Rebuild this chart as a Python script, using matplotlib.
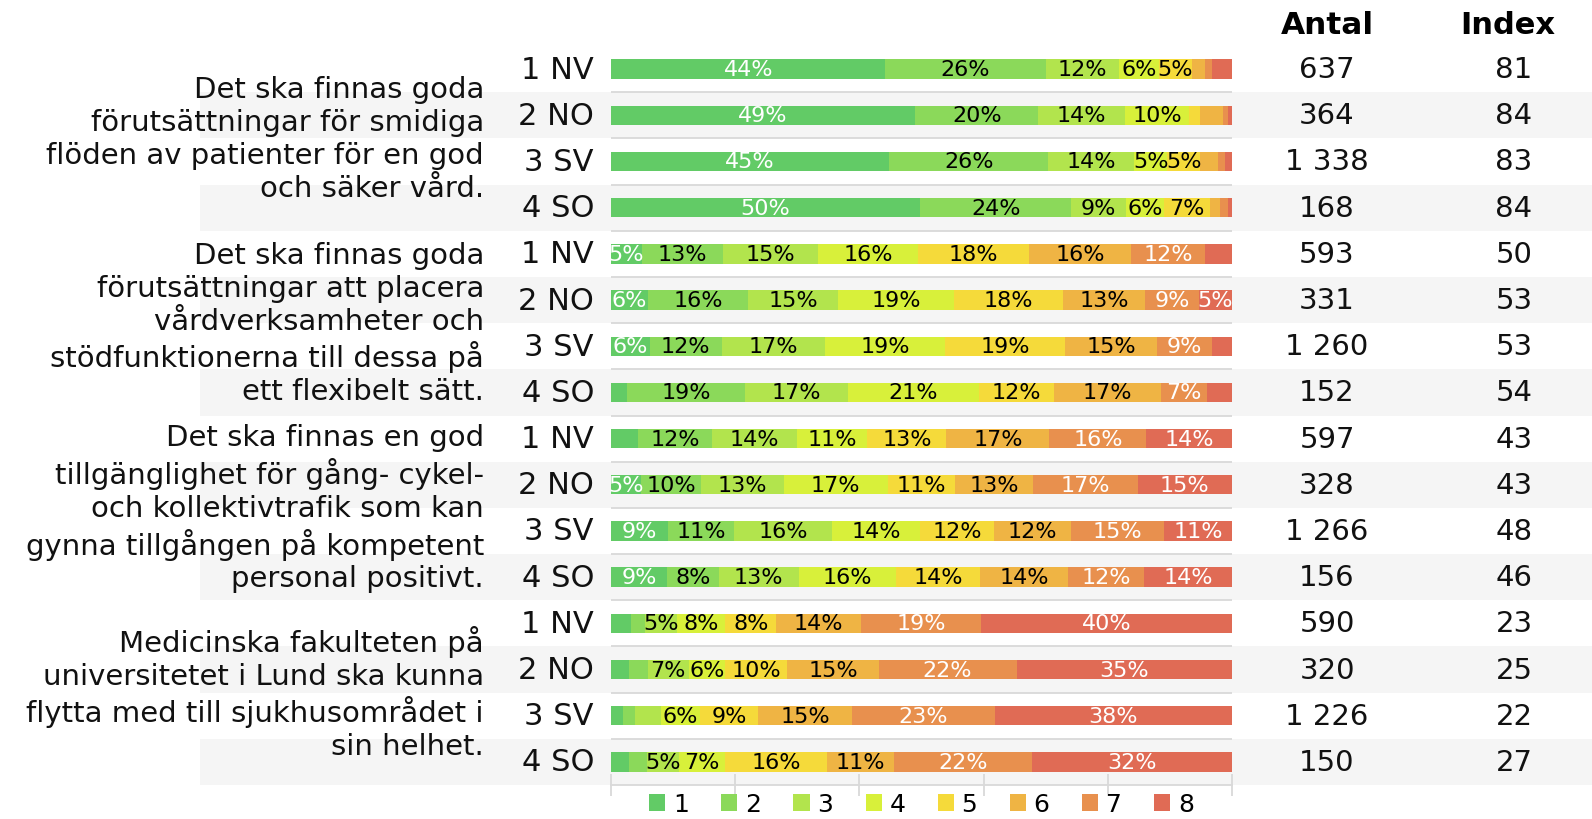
import matplotlib
matplotlib.use("Agg")
import matplotlib.pyplot as plt
from matplotlib.patches import Rectangle
from matplotlib.transforms import blended_transform_factory

plt.rcParams["font.family"] = ["DejaVu Sans"]

# ── Data ────────────────────────────────────────────────────────────
QUESTIONS = [
    "Det ska finnas goda\nförutsättningar för smidiga\nflöden av patienter för en god\noch säker vård.",
    "Det ska finnas goda\nförutsättningar att placera\nvårdverksamheter och\nstödfunktionerna till dessa på\nett flexibelt sätt.",
    "Det ska finnas en god\ntillgänglighet för gång- cykel-\noch kollektivtrafik som kan\ngynna tillgången på kompetent\npersonal positivt.",
    "Medicinska fakulteten på\nuniversitetet i Lund ska kunna\nflytta med till sjukhusområdet i\nsin helhet.",
]
AREAS = ["1 NV", "2 NO", "3 SV", "4 SO"]
CATEGORIES = ["1", "2", "3", "4", "5", "6", "7", "8"]

# share (%) per answer category, one value per row (4 questions x 4 areas)
SHARE_1 = [44.2, 49.0, 44.8, 49.8, 5.0, 6.0, 6.2, 2.6, 4.4, 4.8, 9.2, 9.0, 3.2, 2.9, 2.0, 2.9]
SHARE_2 = [25.8, 19.8, 25.6, 24.3, 13.0, 16.0, 11.6, 19.0, 11.9, 9.7, 10.6, 8.4, 2.2, 3.0, 1.8, 2.9]
SHARE_3 = [11.8, 14.0, 13.8, 8.8, 15.3, 14.6, 16.6, 16.6, 13.6, 13.3, 15.8, 12.8, 5.3, 6.6, 4.3, 5.2]
SHARE_4 = [6.4, 10.3, 5.4, 6.2, 16.2, 18.6, 19.4, 21.0, 11.4, 16.8, 14.1, 15.7, 7.7, 5.9, 6.2, 7.4]
SHARE_5 = [5.3, 1.8, 5.3, 7.4, 17.8, 17.6, 19.3, 12.2, 12.7, 10.8, 12.0, 13.6, 8.2, 10.0, 9.4, 16.4]
SHARE_6 = [2.1, 3.6, 2.8, 1.6, 16.4, 13.2, 14.9, 17.1, 16.6, 12.6, 12.3, 14.1, 13.6, 14.7, 15.1, 10.7]
SHARE_7 = [1.2, 0.8, 1.2, 1.2, 12.0, 8.7, 8.8, 7.4, 15.6, 16.8, 15.1, 12.2, 19.4, 22.2, 23.0, 22.3]
SHARE_8 = [3.2, 0.7, 1.1, 0.7, 4.3, 5.3, 3.2, 4.1, 13.8, 15.2, 10.9, 14.2, 40.4, 34.7, 38.2, 32.2]

ANTAL = ["637", "364", "1 338", "168", "593", "331", "1 260", "152",
         "597", "328", "1 266", "156", "590", "320", "1 226", "150"]
INDEX = [81, 84, 83, 84, 50, 53, 53, 54, 43, 43, 48, 46, 23, 25, 22, 27]

# ── Style ───────────────────────────────────────────────────────────
COLORS = ["#62CB66", "#8BD95A", "#B2E44D", "#D8F03A",
          "#F5DA3A", "#EFB444", "#E8904E", "#E06B55"]
LABEL_COLORS = ["white", "black", "black", "black", "black", "black", "white", "white"]
BAND = "#F5F5F5"
GRID = "#D9D9D9"
TXT = "#111111"

W, H = 1592, 820


def main():
    shares = [SHARE_1, SHARE_2, SHARE_3, SHARE_4, SHARE_5, SHARE_6, SHARE_7, SHARE_8]
    n_rows = len(ANTAL)
    rows = list(range(n_rows))

    fig = plt.figure(figsize=(W / 100, H / 100), dpi=100)
    fig.patch.set_facecolor("white")
    ax = fig.add_axes([611 / W, 1 - 786 / H, 621 / W, 739 / H])
    ax.set_facecolor("none")
    ax.set_xlim(0, 100)
    ax.set_ylim(n_rows - 0.5, -0.5)

    trans = blended_transform_factory(fig.transFigure, ax.transData)

    # alternating grey bands (rows 2 and 4 of each question)
    for r in rows:
        if r % 2 == 1:
            ax.add_patch(Rectangle((200 / W, r - 0.5), 1 - 200 / W, 1, transform=trans,
                                   facecolor=BAND, edgecolor="none", zorder=0, clip_on=False))

    # separators between rows
    ax.hlines([r + 0.5 for r in rows[:-1]], 0, 100, color=GRID, lw=1.3, zorder=1)

    # stacked bars
    left = [0.0] * n_rows
    containers = []
    for cat, vals, col, tcol in zip(CATEGORIES, shares, COLORS, LABEL_COLORS):
        bc = ax.barh(rows, vals, left=left, height=0.42, color=col, label=cat, zorder=2)
        labels = [f"{round(v)}%" if round(v) >= 5 else "" for v in vals]
        ax.bar_label(bc, labels=labels, label_type="center", color=tcol,
                     fontsize=16, zorder=3)
        containers.append(bc)
        left = [a + b for a, b in zip(left, vals)]

    # axes cosmetics
    for side in ("top", "left", "right"):
        ax.spines[side].set_visible(False)
    ax.spines["bottom"].set_color(GRID)
    ax.spines["bottom"].set_linewidth(1.3)
    ax.set_xticks([0, 20, 40, 60, 80, 100])
    ax.set_yticks([])
    ax.tick_params(axis="x", direction="inout", length=16, width=1.3,
                   color=GRID, labelbottom=False)

    # row labels and table columns
    for r in rows:
        ax.text(594 / W, r, AREAS[r % 4], transform=trans, ha="right", va="center",
                fontsize=22, color=TXT, zorder=4)
        ax.text(1327 / W, r, ANTAL[r], transform=trans, ha="center", va="center",
                fontsize=21, color=TXT, zorder=4)
        ax.text(1514 / W, r, str(INDEX[r]), transform=trans, ha="center", va="center",
                fontsize=21, color=TXT, zorder=4)

    # question texts
    for q, text in enumerate(QUESTIONS):
        ax.text(484 / W, 4 * q + 1.5, text, transform=trans, ha="right", va="center",
                multialignment="right", fontsize=21, linespacing=1.22,
                color=TXT, zorder=4)

    # column headers
    fig.text(1327 / W, 1 - 25 / H, "Antal", ha="center", va="center",
             fontsize=22.5, fontweight="bold", color="black")
    fig.text(1508 / W, 1 - 25 / H, "Index", ha="center", va="center",
             fontsize=22, fontweight="bold", color="black")

    # legend
    ax.legend(handles=containers, labels=CATEGORIES, ncol=8, loc="center",
              bbox_to_anchor=(0.5, -19 / 739), frameon=False, fontsize=18,
              handlelength=0.65, handleheight=0.65, handletextpad=0.3,
              columnspacing=1.3, borderaxespad=0, borderpad=0)

    fig.savefig("out.png", dpi=100, facecolor="white")
    plt.close(fig)


if __name__ == "__main__":
    main()
